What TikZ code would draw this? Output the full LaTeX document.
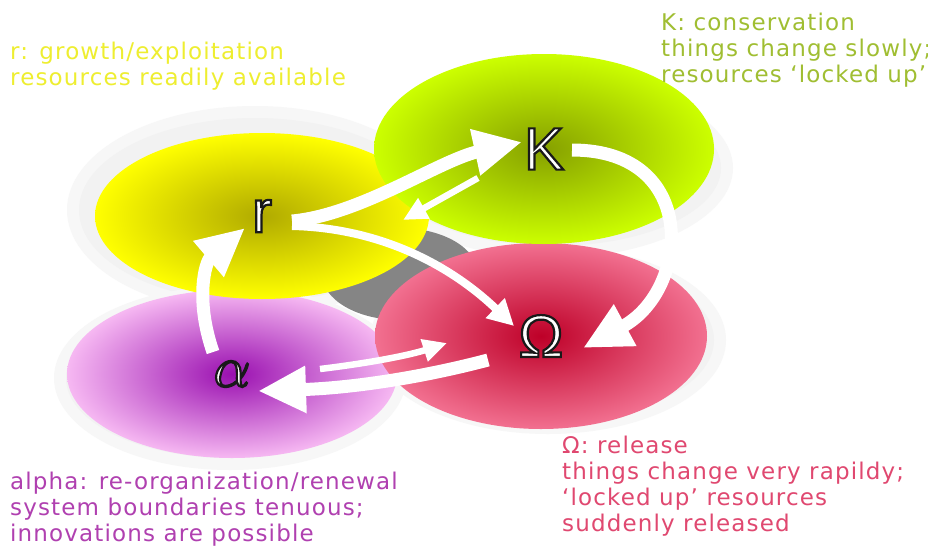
\RequirePackage{fix-cm}
\documentclass[tikz,border=0pt]{standalone}
\usepackage{fontspec}
\usetikzlibrary{arrows.meta, shapes.geometric}
\newfontfamily\descfont[LetterSpace=5]{DejaVu Sans}
\newfontfamily\lettersans{Liberation Sans}
% white letter with a dark rim (fill + stroke render mode)
\newcommand{\rimmed}[1]{\special{pdf:code q 2 Tr 2.2 w 0.1 0.1 0.1 RG}#1\special{pdf:code Q}}
\definecolor{rin}{HTML}{B0AA00}
\definecolor{rout}{HTML}{FFFF00}
\definecolor{kin}{HTML}{86A000}
\definecolor{kout}{HTML}{CCFF00}
\definecolor{ain}{HTML}{9A10B0}
\definecolor{aout}{HTML}{F6B8F2}
\definecolor{oin}{HTML}{BE0028}
\definecolor{oout}{HTML}{F27090}
\definecolor{rtext}{HTML}{EEEE30}
\definecolor{ktext}{HTML}{A0BE32}
\definecolor{atext}{HTML}{B040B0}
\definecolor{otext}{HTML}{E04870}

\begin{document}
\begin{tikzpicture}[
    x=1pt, y=-1pt,
    blob/.style={ellipse, inner sep=0pt, text=white},
    sansletter/.style={font=\lettersans\fontsize{60}{60}\selectfont},
    mathletter/.style={font=\fontsize{58}{58}\selectfont},
    desc/.style={anchor=base west, align=left, inner sep=0pt, font=\descfont\fontsize{23}{26}\selectfont},
    thickarrow/.style={draw=white, line width=13pt, -{Triangle[length=48pt, width=44pt]}},
    midarrow/.style={draw=white, line width=8pt, -{Triangle[length=26pt, width=26pt]}},
    thinarrow/.style={draw=white, line width=6.5pt, -{Triangle[length=24pt, width=22pt]}}
  ]
    \fill[white] (0,0) rectangle (928,549);
    \useasboundingbox (0,0) rectangle (928,549);
    % soft shadow behind the four phases
    \foreach \cx/\cy/\rx/\ry in {255/210/188/104, 553/168/180/90, 230/378/176/92, 548/340/178/94} {
      \fill[gray!6] (\cx,\cy) ellipse [x radius=\rx, y radius=\ry];
      \fill[gray!10] (\cx,\cy) ellipse [x radius=\rx-12, y radius=\ry-12];
    }
    \fill[black!48] (400,274) ellipse [x radius=78, y radius=46];
    % phases
    \node[blob, mathletter, inner color=ain, outer color=aout, minimum width=330pt, minimum height=168pt] (a) at (232,374) {\rimmed{$\alpha$}};
    \node[blob, sansletter, inner color=oin, outer color=oout, minimum width=332pt, minimum height=186pt] (O) at (541,336) {\rimmed{Ω}};
    \node[blob, sansletter, inner color=rin, outer color=rout, minimum width=334pt, minimum height=166pt] (r) at (262,216) {\rimmed{r}};
    \node[blob, sansletter, inner color=kin, outer color=kout, minimum width=340pt, minimum height=190pt] (K) at (544,149) {\rimmed{K}};
    % transitions
    \draw[thickarrow] ([shift={(30,5)}]r.center) .. controls +(68,-6) and +(-82,18) .. ([shift={(-22,-7)}]K.center);
    \draw[thinarrow] ([shift={(-66,29)}]K.center) -- ([shift={(141,4)}]r.center);
    \draw[midarrow] ([shift={(30,10)}]r.center) .. controls +(88,2) and +(-64,-61) .. ([shift={(-27,-10)}]O.center);
    \draw[thickarrow] ([shift={(28,1)}]K.center) .. controls +(128,0) and +(107,-58) .. ([shift={(42,12)}]O.center);
    \draw[thickarrow] ([shift={(-53,24)}]O.center) .. controls +(-68,18) and +(92,-3) .. ([shift={(26,17)}]a.center);
    \draw[thinarrow] ([shift={(88,-5)}]a.center) .. controls +(50,-6) and +(-37,12) .. ([shift={(-94,7)}]O.center);
    \draw[thickarrow] ([shift={(-19,-22)}]a.center) .. controls +(-18,-52) and +(-40,34) .. ([shift={(-17,12)}]r.center);
    % descriptions (anchored at the baseline of the last line)
    \node[desc, text=rtext] (rdesc) at (10,85) {r: growth/exploitation\\resources readily available};
    \node[desc, text=ktext] (kdesc) at (661,82) {K: conservation\\things change slowly;\\resources ‘locked up’};
    \node[desc, text=atext] (adesc) at (10,541) {alpha: re-organization/renewal\\system boundaries tenuous;\\innovations are possible};
    \node[desc, text=otext] (odesc) at (562,531) {Ω: release\\things change very rapildy;\\‘locked up’ resources\\suddenly released};
\end{tikzpicture}
\end{document}
